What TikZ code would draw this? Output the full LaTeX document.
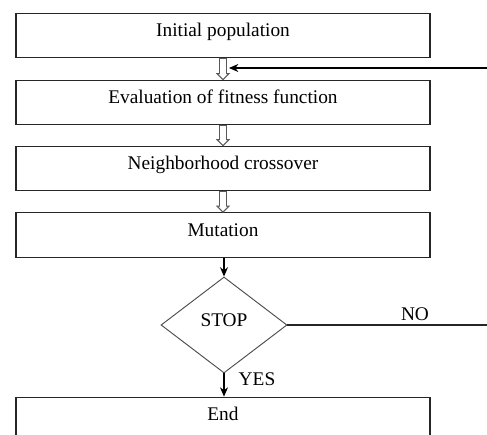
\documentclass[tikz,border=0pt]{standalone}
\usepackage{fontspec}
\setmainfont{Liberation Serif}
\usetikzlibrary{arrows.meta,calc,shapes.geometric}
\begin{document}
\begin{tikzpicture}[x=0.75pt,y=-0.75pt,
  box/.style={draw=black!85, line width=0.8pt, minimum width=310.5pt, minimum height=33.5pt,
    inner sep=0pt, font=\fontsize{14.5}{16}\selectfont, text height=9pt, text depth=7pt},
  hollowarrow/.style={draw=black!65, line width=0.7pt, fill=white, line join=miter},
  conn/.style={draw=black, line width=0.8pt, -{Stealth[length=7pt,width=6pt]}},
  plain/.style={draw=black!85, line width=0.8pt},
  lab/.style={font=\fontsize{14.5}{16}\selectfont, inner sep=0pt}]
\useasboundingbox (0,0) rectangle (487,435);
\clip (0,0) rectangle (487,435);

\node[box] (b1) at (223,35.5) {Initial population};
\node[box] (b2) at (223,102.5) {Evaluation of fitness function};
\node[box] (b3) at (223,168.5) {Neighborhood crossover};
\node[box] (b4) at (223,235) {Mutation};
\node[draw=black!70, line width=0.7pt, shape=diamond, minimum width=94.5pt, minimum height=72pt,
  inner sep=0pt, font=\fontsize{14.5}{16}\selectfont, text height=14pt, text depth=12pt] (d) at (224,325) {STOP};
\node[box] (b5) at (223,419.5) {End};

\newcommand{\hollowarr}[2]{%
  \draw[hollowarrow] ($(#1.south)+(-3.5,0)$) -- ($(#2.north)+(-3.5,-6)$) -- ++(-2.5,0) -- (#2.north)
    -- ($(#2.north)+(6,-6)$) -- ++(-2.5,0) -- ($(#1.south)+(3.5,0)$) -- cycle;}
\hollowarr{b1}{b2}
\hollowarr{b2}{b3}
\hollowarr{b3}{b4}

\coordinate (fbstart) at (487,68);
\coordinate (fbend) at (229,68);
\draw[conn] (fbstart) -- (fbend);

\draw[conn] (b4.south -| d.north) -- (d.north);
\draw[conn] (d.south) -- (d.south |- b5.north);

\coordinate (noend) at (487,325);
\draw[plain] (d.east) -- (noend);

\node[lab] (no) at (415,314) {NO};
\node[lab] (yes) at (257,379) {YES};
\end{tikzpicture}
\end{document}
